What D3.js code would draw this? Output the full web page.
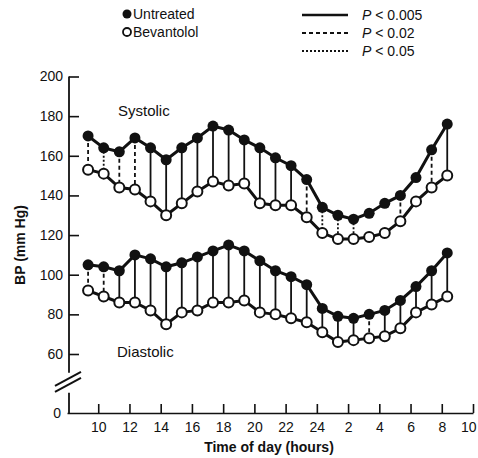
<!DOCTYPE html>
<html>
<head>
<meta charset="utf-8">
<title>BP</title>
<style>
body { margin: 0; background: #fff; }
svg text { font-family: "Liberation Sans", Arial, sans-serif; fill: #111; }
.axis path, .axis line { fill: none; stroke: #111; stroke-width: 1.6; }
.axis text { font-size: 14px; }
</style>
</head>
<body>
<script src="https://cdn.jsdelivr.net/npm/d3@7"></script>
<script>

// hour of each reading (continuous: 24 = midnight, 26 = 2 am ...)
var hours = [9.35, 10.35, 11.35, 12.35, 13.35, 14.35, 15.35, 16.35, 17.35, 18.35, 19.35, 20.35,
             21.35, 22.35, 23.35, 24.35, 25.35, 26.35, 27.35, 28.35, 29.35, 30.35, 31.35, 32.35];

var sysUntreated = [170, 164, 162, 169, 164, 158, 164, 169, 175, 173, 168, 164,
                    159, 155, 148, 134, 130, 128, 131, 136, 140, 149, 163, 176];
var sysBevantolol = [153, 151, 144, 143, 137, 130, 136, 142, 147, 145, 146, 136,
                     135, 135, 129, 121, 118, 118, 119, 121, 127, 137, 144, 150];
// s = solid (P<0.005), d = dashed (P<0.02), o = dotted (P<0.05), n = none
var sysSig = ["d", "o", "d", "d", "s", "s", "s", "s", "s", "s", "s", "s",
              "s", "s", "d", "o", "o", "o", "n", "n", "d", "n", "d", "s"];

var diaUntreated = [105, 104, 102, 110, 108, 104, 106, 109, 112, 115, 112, 107,
                    102, 99, 95, 83, 79, 78, 80, 82, 87, 94, 102, 111];
var diaBevantolol = [92, 89, 86, 86, 82, 75, 81, 82, 86, 86, 87, 81,
                     80, 78, 76, 71, 66, 67, 68, 69, 73, 81, 85, 89];
var diaSig = ["d", "d", "s", "s", "s", "s", "s", "s", "s", "s", "s", "s",
              "s", "s", "s", "s", "s", "s", "d", "s", "s", "s", "s", "s"];

var yTicks = [60, 80, 100, 120, 140, 160, 180, 200];
var xTicks = [10, 12, 14, 16, 18, 20, 22, 24, 26, 28, 30, 32, 34];
var xTickLabels = ["10", "12", "14", "16", "18", "20", "22", "24", "2", "4", "6", "8", "10"];
var sigLabels = ["P < 0.005", "P < 0.02", "P < 0.05"];

var w = 478, h = 458;
var axisX = 69, baseY = 413;

var dash = { s: null, d: "4,3", o: "2,2" };

var x = d3.scaleLinear().domain([8, 34]).range([67, 473]);
var y = d3.scaleLinear().domain([60, 200]).range([354, 76.5]);

var svg = d3.select("body").append("svg")
  .attr("width", w)
  .attr("height", h);

// y axis (ticks point inward)
var yAxis = d3.axisLeft(y).tickValues(yTicks).tickSizeInner(-10).tickSizeOuter(0).tickPadding(6);
var gy = svg.append("g")
  .attr("class", "axis")
  .attr("transform", "translate(" + axisX + ",0)")
  .call(yAxis);
gy.select(".domain").remove();

// axis line with break
svg.append("line")
  .attr("x1", axisX).attr("x2", axisX)
  .attr("y1", y(200)).attr("y2", y(50.5))
  .attr("stroke", "#111").attr("stroke-width", 1.8);
svg.append("line")
  .attr("x1", axisX).attr("x2", axisX)
  .attr("y1", y(50.5) + 20).attr("y2", baseY)
  .attr("stroke", "#111").attr("stroke-width", 1.8);
[0, 6].forEach(function(off) {
  svg.append("line")
    .attr("x1", axisX - 14).attr("y1", y(50.5) + 13 + off)
    .attr("x2", axisX + 12).attr("y2", y(50.5) - 1 + off)
    .attr("stroke", "#111").attr("stroke-width", 2);
});

svg.append("text")
  .attr("x", axisX - 8).attr("y", baseY + 5)
  .attr("text-anchor", "end")
  .style("font-size", "14px")
  .text("0");

// x axis (ticks point up)
var xAxis = d3.axisBottom(x).tickValues(xTicks)
  .tickFormat(function(d, i) { return xTickLabels[i]; })
  .tickSizeInner(-9).tickSizeOuter(0).tickPadding(9);
var gx = svg.append("g")
  .attr("class", "axis")
  .attr("transform", "translate(0," + baseY + ")")
  .call(xAxis);
// keep the last label inside the picture
gx.selectAll(".tick text").filter(function(d) { return d == 34; })
  .attr("text-anchor", "end").attr("dx", "3");

svg.append("text")
  .attr("x", 269).attr("y", 452)
  .attr("text-anchor", "middle")
  .style("font-size", "14px").style("font-weight", "bold")
  .text("Time of day (hours)");

svg.append("text")
  .attr("transform", "translate(25,245) rotate(-90)")
  .attr("text-anchor", "middle")
  .style("font-size", "14px").style("font-weight", "bold")
  .text("BP (mm Hg)");

function drawPanel(top, bottom, sig) {
  var g = svg.append("g");

  g.selectAll("line.link")
    .data(hours)
    .enter().filter(function(d, i) { return sig[i] != "n"; })
    .append("line")
    .attr("class", "link")
    .attr("x1", function(d) { return x(d); })
    .attr("x2", function(d) { return x(d); })
    .attr("y1", function(d) { return y(top[hours.indexOf(d)]); })
    .attr("y2", function(d) { return y(bottom[hours.indexOf(d)]); })
    .attr("stroke", "#111")
    .attr("stroke-width", 1.8)
    .attr("stroke-dasharray", function(d) { return dash[sig[hours.indexOf(d)]]; });

  var line = d3.line()
    .x(function(d, i) { return x(hours[i]); })
    .y(function(d) { return y(d); });

  [bottom, top].forEach(function(s) {
    g.append("path")
      .attr("d", line(s))
      .attr("fill", "none")
      .attr("stroke", "#111")
      .attr("stroke-width", 3);
  });

  g.selectAll("circle.open")
    .data(bottom)
    .enter().append("circle")
    .attr("cx", function(d, i) { return x(hours[i]); })
    .attr("cy", function(d) { return y(d); })
    .attr("r", 5)
    .attr("fill", "#fff")
    .attr("stroke", "#111")
    .attr("stroke-width", 2);

  g.selectAll("circle.fill")
    .data(top)
    .enter().append("circle")
    .attr("cx", function(d, i) { return x(hours[i]); })
    .attr("cy", function(d) { return y(d); })
    .attr("r", 5.5)
    .attr("fill", "#111");
}

drawPanel(sysUntreated, sysBevantolol, sysSig);
drawPanel(diaUntreated, diaBevantolol, diaSig);

svg.append("text").attr("x", 118).attr("y", 116).style("font-size", "15px").text("Systolic");
svg.append("text").attr("x", 117).attr("y", 357).style("font-size", "15px").text("Diastolic");

// legend
svg.append("circle").attr("cx", 127).attr("cy", 14).attr("r", 4.5).attr("fill", "#111");
svg.append("circle").attr("cx", 127).attr("cy", 32).attr("r", 4).attr("fill", "#fff")
  .attr("stroke", "#111").attr("stroke-width", 1.8);
svg.append("text").attr("x", 133).attr("y", 19).style("font-size", "14px").text("Untreated");
svg.append("text").attr("x", 133).attr("y", 37).style("font-size", "14px").text("Bevantolol");

var legDash = ["s", "d", "o"];
sigLabels.forEach(function(lab, i) {
  var ly = 15 + i * 18;
  svg.append("line")
    .attr("x1", 302).attr("x2", 348)
    .attr("y1", ly).attr("y2", ly)
    .attr("stroke", "#111")
    .attr("stroke-width", i == 0 ? 2.6 : 1.8)
    .attr("stroke-dasharray", dash[legDash[i]]);
  var t = svg.append("text").attr("x", 362).attr("y", ly + 5).style("font-size", "14px");
  t.append("tspan").style("font-style", "italic").text(lab.charAt(0));
  t.append("tspan").text(lab.slice(1));
});

</script>
</body>
</html>
